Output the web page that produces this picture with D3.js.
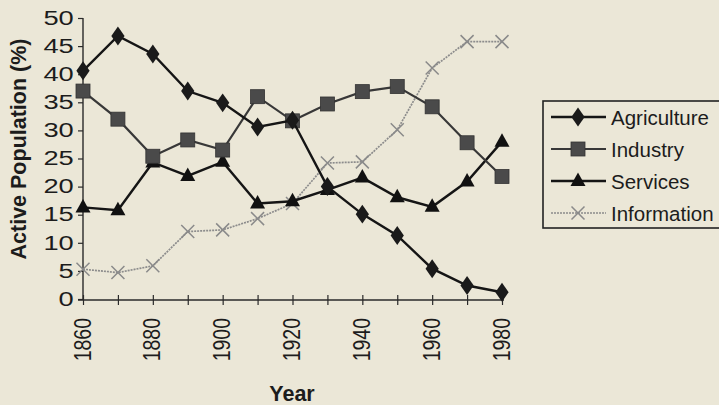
<!DOCTYPE html>
<html>
<head>
<meta charset="utf-8">
<script src="https://cdn.jsdelivr.net/npm/d3@7"></script>
<style>
  html, body { margin: 0; padding: 0; background: #ebe7d7; }
  #chart { width: 719px; height: 405px; }
  text { font-family: "Liberation Sans", Arial, sans-serif; fill: #1c1c1c; }
</style>
</head>
<body>
<div id="chart"></div>
<script>
// data
const years = [1860, 1870, 1880, 1890, 1900, 1910, 1920, 1930, 1940, 1950, 1960, 1970, 1980];
const agriculture = [40.6, 46.8, 43.6, 37.0, 34.9, 30.6, 31.8, 20.0, 15.1, 11.3, 5.4, 2.4, 1.2];
const industry    = [37.0, 32.0, 25.4, 28.3, 26.5, 36.0, 31.7, 34.7, 36.9, 37.8, 34.2, 27.8, 21.8];
const services    = [16.3, 15.8, 24.3, 21.9, 24.4, 17.0, 17.4, 19.4, 21.6, 18.1, 16.4, 20.9, 28.0];
const information = [5.3, 4.7, 5.9, 12.0, 12.3, 14.3, 17.0, 24.2, 24.4, 30.1, 41.1, 45.8, 45.8];
const yTicks = [0, 5, 10, 15, 20, 25, 30, 35, 40, 45, 50];
const xLabels = [1860, 1880, 1900, 1920, 1940, 1960, 1980];

const seriesList = [
    {name: "Agriculture", values: agriculture, color: "#151515", width: 2.4, dash: null, marker: "diamond", fill: "#1a1a1a"},
    {name: "Industry", values: industry, color: "#383838", width: 2.2, dash: null, marker: "square", fill: "#4a4a4a"},
    {name: "Services", values: services, color: "#151515", width: 2.4, dash: null, marker: "triangle", fill: "#111"},
    {name: "Information", values: information, color: "#8c8c8c", width: 1.7, dash: "2,1", marker: "cross", fill: "none"}
];

const svg = d3.select("#chart").append("svg")
    .attr("width", 719)
    .attr("height", 405);

const x = d3.scaleLinear().domain([1860, 1980]).range([83, 502]);
const y = d3.scaleLinear().domain([0, 50]).range([299, 18]);

// y axis
const yAxis = svg.append("g")
    .attr("transform", "translate(83,0)")
    .call(d3.axisLeft(y).tickValues(yTicks).tickSize(5).tickPadding(5));
yAxis.select(".domain").attr("stroke", "#2a2a2a").attr("stroke-width", 1.4).attr("d", "M0,18V300");
yAxis.selectAll(".tick line").attr("stroke", "#2a2a2a").attr("stroke-width", 1.2);
yAxis.selectAll(".tick text")
    .attr("font-size", "19.5px")
    .attr("font-family", "Liberation Sans, Arial, sans-serif")
    .attr("fill", "#1c1c1c")
    .attr("transform", "translate(-5,0) scale(1.4,1)")
    .attr("x", -3);

// x axis
const xAxis = svg.append("g")
    .attr("transform", "translate(0,300)")
    .call(d3.axisBottom(x).tickValues(years).tickSize(5).tickFormat(""));
xAxis.select(".domain").attr("stroke", "#2a2a2a").attr("stroke-width", 1.4).attr("d", "M78,0H504");
xAxis.selectAll(".tick line").attr("stroke", "#2a2a2a").attr("stroke-width", 1.2).attr("y1", -5).attr("y2", 5);

svg.append("g").selectAll("text")
    .data(xLabels)
    .join("text")
    .attr("transform", d => `translate(${x(d) + 7.5},318) rotate(-90) scale(1,1.25)`)
    .attr("text-anchor", "end")
    .attr("font-size", "19.5px")
    .text(d => d);

// axis titles
svg.append("text")
    .attr("transform", "translate(26,149) rotate(-90)")
    .attr("text-anchor", "middle")
    .attr("font-size", "21.5px")
    .attr("font-weight", "bold")
    .text("Active Population (%)");

svg.append("text")
    .attr("x", 292)
    .attr("y", 401)
    .attr("text-anchor", "middle")
    .attr("font-size", "21.5px")
    .attr("font-weight", "bold")
    .text("Year");

// markers
function drawMarker(g, type, s) {
    if (type === "diamond") {
        g.append("path").attr("d", d3.symbol(d3.symbolDiamond, 115)()).attr("fill", s.fill)
            .attr("transform", "scale(1.15,0.95)");
    } else if (type === "square") {
        g.append("rect").attr("x", -7).attr("y", -7).attr("width", 14).attr("height", 14)
            .attr("fill", s.fill).attr("stroke", "#333").attr("stroke-width", 0.8);
    } else if (type === "triangle") {
        g.append("path").attr("d", "M0,-8.5L7.5,5L-7.5,5Z").attr("fill", s.fill);
    } else {
        g.append("path").attr("d", "M-6.5,-6.5L6.5,6.5M-6.5,6.5L6.5,-6.5")
            .attr("stroke", "#8a8a8a").attr("stroke-width", 1.5).attr("fill", "none");
    }
}

// lines
const line = d3.line()
    .x((d, i) => x(years[i]))
    .y(d => y(d));

seriesList.slice().reverse().forEach(s => {
    const g = svg.append("g");
    g.append("path")
        .datum(s.values)
        .attr("fill", "none")
        .attr("stroke", s.color)
        .attr("stroke-width", s.width)
        .attr("stroke-dasharray", s.dash)
        .attr("d", line);
    s.values.forEach((v, i) => {
        const m = g.append("g").attr("transform", `translate(${x(years[i])},${y(v)})`);
        drawMarker(m, s.marker, s);
    });
});

// legend
const legend = svg.append("g");
legend.append("rect")
    .attr("x", 543).attr("y", 101)
    .attr("width", 190).attr("height", 127)
    .attr("fill", "none")
    .attr("stroke", "#222")
    .attr("stroke-width", 1.6);

const legendY = d3.scalePoint().domain(seriesList.map(s => s.name)).range([117, 213]);

seriesList.forEach(s => {
    const ly = legendY(s.name);
    legend.append("line")
        .attr("x1", 551).attr("x2", 606)
        .attr("y1", ly).attr("y2", ly)
        .attr("stroke", s.color)
        .attr("stroke-width", s.width)
        .attr("stroke-dasharray", s.dash);
    const m = legend.append("g").attr("transform", `translate(578,${ly})`);
    drawMarker(m, s.marker, s);
    legend.append("text")
        .attr("x", 611)
        .attr("y", ly + 7.5)
        .attr("font-size", "20.5px")
        .text(s.name);
});
</script>
</body>
</html>
